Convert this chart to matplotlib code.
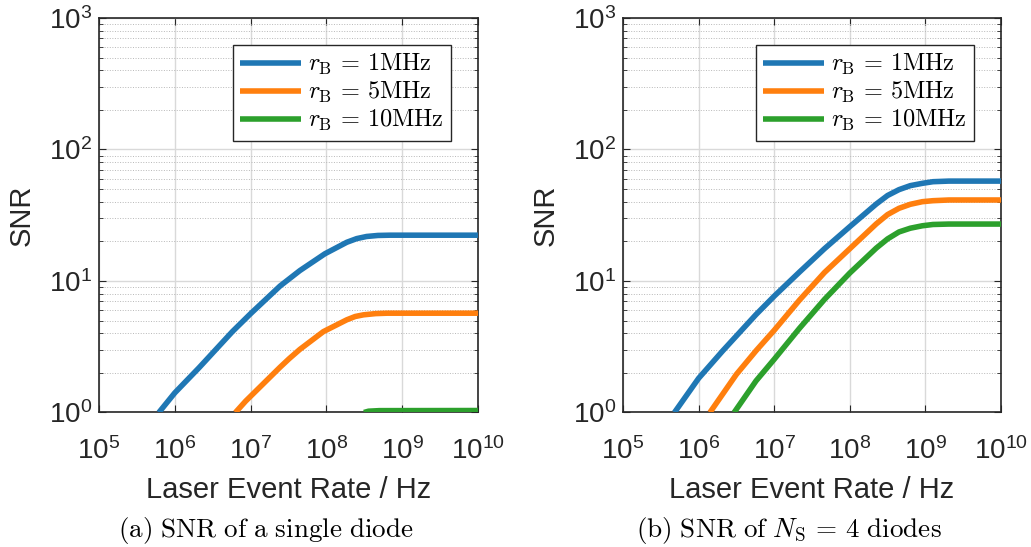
import matplotlib.pyplot as plt
import numpy as np

plt.rcParams['font.family'] = ['Liberation Sans', 'DejaVu Sans']
plt.rcParams['mathtext.fontset'] = 'cm'

# (a) single diode
rate_a_1 = [6.17e5, 1e6, 2.09e6, 5.75e6, 1e7, 2.45e7, 4.47e7, 9.55e7, 1.86e8, 2.51e8, 3.39e8, 4.79e8, 6.92e8, 1e10]
snr_a_1 = [1.0, 1.41, 2.19, 4.12, 5.64, 9.16, 12.0, 16.1, 19.7, 21.0, 21.8, 22.2, 22.3, 22.3]
rate_a_5 = [6.31e6, 8.61e6, 2.45e7, 3.24e7, 4.47e7, 9.12e7, 1.86e8, 2.40e8, 3.09e8, 4.47e8, 6.31e8, 1e10]
snr_a_5 = [1.0, 1.22, 2.21, 2.57, 3.02, 4.12, 5.07, 5.37, 5.53, 5.65, 5.69, 5.69]
rate_a_10 = [3.13e8, 3.6e8, 5.0e8, 1e10]
snr_a_10 = [1.0, 1.023, 1.033, 1.035]

# (b) N_S = 4 diodes
rate_b_1 = [4.79e5, 1e6, 2.09e6, 5.75e6, 1e7, 2.16e7, 4.62e7, 1e8, 2.24e8, 3.16e8, 4.47e8, 6.31e8, 9.12e8, 1.26e9, 2.04e9, 1e10]
snr_b_1 = [1.0, 1.82, 2.95, 5.56, 7.67, 11.7, 17.6, 25.9, 38.5, 44.7, 49.5, 53.1, 55.3, 56.9, 57.5, 57.5]
rate_b_5 = [1.41e6, 3.16e6, 5.75e6, 1e7, 2.16e7, 4.62e7, 1e8, 2.24e8, 3.16e8, 4.47e8, 6.31e8, 9.12e8, 1.26e9, 2.04e9, 1e10]
snr_b_5 = [1.0, 1.95, 2.95, 4.22, 7.16, 11.6, 17.6, 27.2, 32.0, 35.7, 38.3, 40.1, 40.8, 41.3, 41.3]
rate_b_10 = [2.95e6, 5.75e6, 1e7, 2.16e7, 4.62e7, 1e8, 2.24e8, 3.16e8, 4.47e8, 6.31e8, 9.12e8, 1.26e9, 2.04e9, 1e10]
snr_b_10 = [1.0, 1.74, 2.54, 4.37, 7.24, 11.5, 17.8, 20.9, 23.6, 25.2, 26.3, 26.9, 27.1, 27.1]

labels = [r'$r_{\mathrm{B}}\,=\,1\mathrm{MHz}$',
          r'$r_{\mathrm{B}}\,=\,5\mathrm{MHz}$',
          r'$r_{\mathrm{B}}\,=\,10\mathrm{MHz}$']
colors = ['#1f77b4', '#ff7f0e', '#2ca02c']
captions = [r'$\mathrm{(a)\ SNR\ of\ a\ single\ diode}$',
            r'$\mathrm{(b)\ SNR\ of\ }N_{\mathrm{S}}\,=\,4\mathrm{\ diodes}$']

fig = plt.figure(figsize=(10.31, 5.47), dpi=100)
ax_a = fig.add_axes([0.0960, 0.2459, 0.3676, 0.7212])
ax_b = fig.add_axes([0.6043, 0.2459, 0.3666, 0.7212])

panels = [
    (ax_a, [(rate_a_1, snr_a_1), (rate_a_5, snr_a_5), (rate_a_10, snr_a_10)]),
    (ax_b, [(rate_b_1, snr_b_1), (rate_b_5, snr_b_5), (rate_b_10, snr_b_10)]),
]

for i, (ax, series) in enumerate(panels):
    for (x, y), c, lab in zip(series, colors, labels):
        ax.plot(x, y, color=c, lw=4, label=lab, solid_capstyle='butt',
                solid_joinstyle='round', zorder=3)
    ax.set_xscale('log')
    ax.set_yscale('log')
    ax.set_xlim(1e5, 1e10)
    ax.set_ylim(1, 1e3)
    ax.set_xticks([1e5, 1e6, 1e7, 1e8, 1e9, 1e10])
    ax.set_yticks([1, 10, 100, 1000])
    ax.grid(True, which='major', color='#d9d9d9', lw=1.0, ls='-', zorder=0)
    ax.grid(True, which='minor', color='#b8b8b8', lw=0.7, ls=':', zorder=0)
    ax.tick_params(which='both', direction='in', top=True, right=True,
                   labelsize=20, colors='#262626', labelcolor='#262626')
    ax.tick_params(axis='x', which='both', pad=18)
    ax.tick_params(axis='y', which='both', pad=5)
    ax.tick_params(which='major', length=5, width=0.8)
    ax.tick_params(which='minor', length=3, width=0.6)
    for s in ax.spines.values():
        s.set_color('#262626')
        s.set_linewidth(1.2)
    ax.set_xlabel('Laser Event Rate / Hz', fontsize=21, color='#262626', labelpad=8)
    ax.set_ylabel('SNR', fontsize=21, color='#262626')
    ax.yaxis.set_label_coords(-0.168, 0.5)
    leg = ax.legend(loc='upper right', bbox_to_anchor=(0.929, 0.932), fontsize=17.5,
                    frameon=True, fancybox=False, framealpha=1, edgecolor='#262626',
                    handlelength=2.5, handletextpad=0.3, labelspacing=0.12,
                    borderpad=0.3, borderaxespad=0)
    leg.get_frame().set_linewidth(1.0)
    pos = ax.get_position()
    fig.text(pos.x0 + pos.width / 2 - 0.0223, 0.019, captions[i], fontsize=19.5,
             ha='center', va='baseline')

fig.savefig('out.png', dpi=100)
